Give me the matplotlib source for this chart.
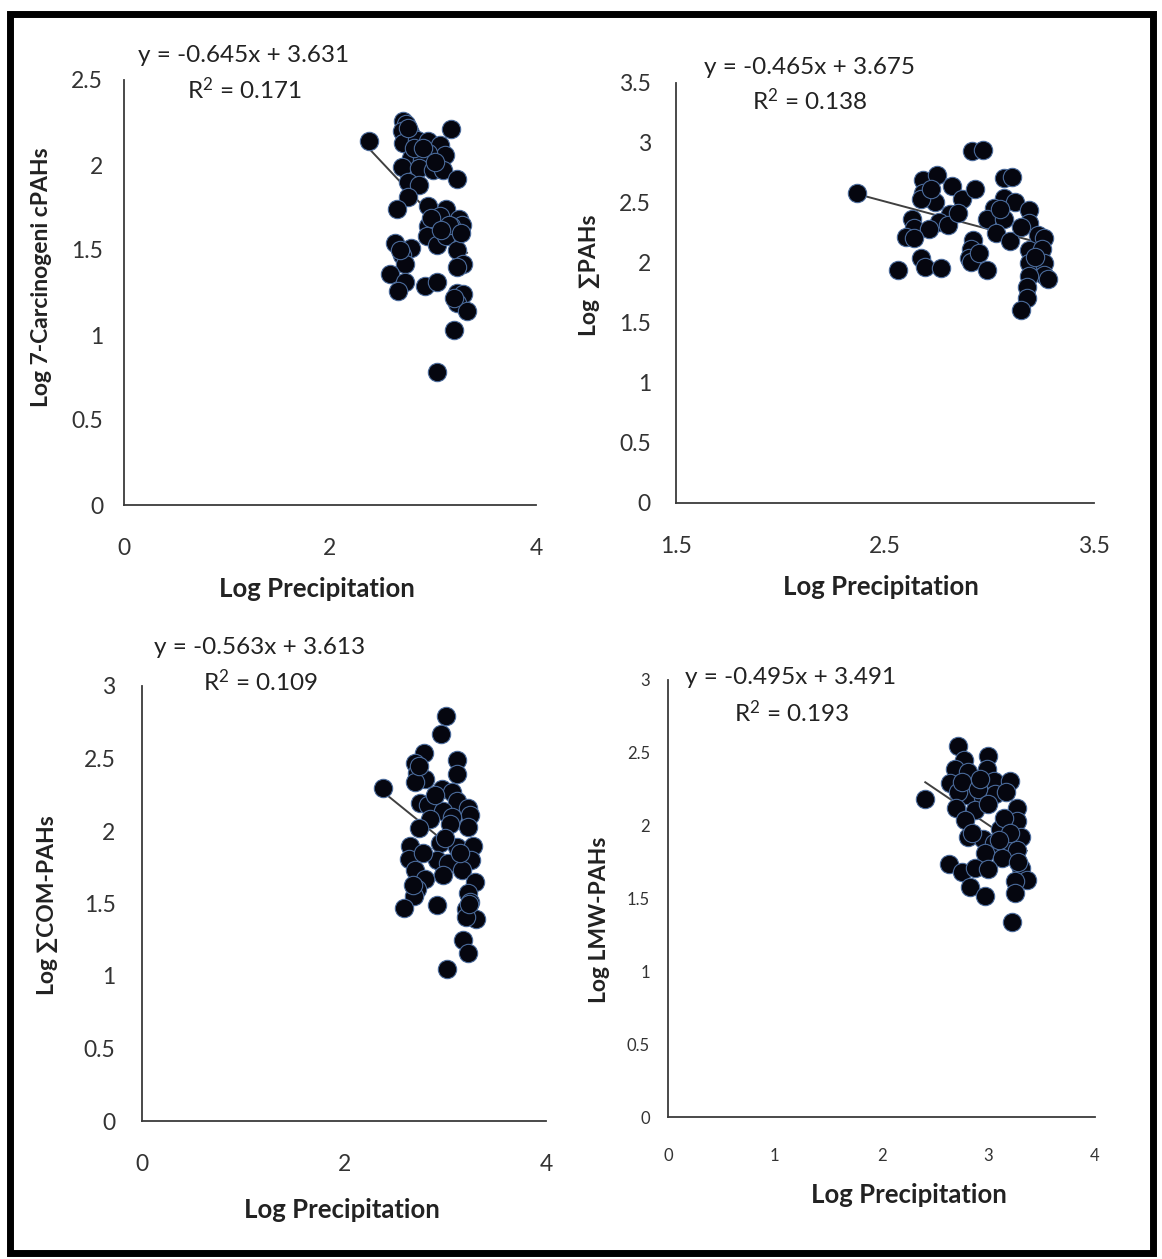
import matplotlib
matplotlib.use("Agg")
import matplotlib.pyplot as plt
from matplotlib.patches import Rectangle
import numpy as np

plt.rcParams['font.family'] = ['Lato', 'DejaVu Sans']
plt.rcParams['mathtext.fontset'] = 'custom'
plt.rcParams['mathtext.rm'] = 'Lato'
plt.rcParams['mathtext.it'] = 'Lato'

# ---------------- data ----------------
p1_x = [2.38, 2.71, 2.74, 2.70, 2.78, 2.71, 2.84, 3.17, 2.95, 3.07, 3.12, 2.95, 2.79, 2.89, 2.70,
        2.86, 3.00, 3.10, 3.23, 2.76, 2.86, 2.76, 2.65, 2.95, 3.13, 3.07, 3.25, 3.28, 2.95, 3.17,
        2.94, 3.04, 3.13, 3.23, 3.29, 3.23, 2.63, 2.79, 2.70, 2.73, 2.58, 2.73, 2.66, 2.92, 3.04,
        3.23, 3.29, 3.23, 3.33, 3.20, 3.04,
        2.76, 2.82, 2.90, 3.02, 3.16, 3.27, 2.68, 3.20, 2.98, 3.08]
p1_y = [2.14, 2.26, 2.24, 2.20, 2.19, 2.13, 2.15, 2.21, 2.14, 2.12, 2.06, 2.07, 2.04, 2.03, 1.99,
        1.98, 1.97, 1.97, 1.92, 1.90, 1.88, 1.81, 1.74, 1.76, 1.74, 1.70, 1.68, 1.65, 1.64, 1.64,
        1.58, 1.53, 1.58, 1.50, 1.42, 1.40, 1.54, 1.51, 1.47, 1.42, 1.36, 1.31, 1.26, 1.29, 1.31,
        1.25, 1.24, 1.19, 1.14, 1.03, 0.78,
        2.22, 2.10, 2.10, 2.02, 1.65, 1.60, 1.50, 1.22, 1.69, 1.62]

p2_x = [2.365, 2.915, 2.97, 2.68, 2.75, 2.82, 2.68, 2.74, 2.67, 2.87, 2.93, 3.07, 3.11, 3.07, 3.12,
        3.02, 3.19, 2.63, 2.81, 2.76, 2.99, 3.07, 3.19, 2.64, 2.71, 2.80, 2.60, 2.64, 3.03, 3.10,
        3.23, 3.26, 2.92, 2.91, 3.19, 3.25, 2.90, 2.91, 2.99, 3.19, 3.26, 3.26, 3.28, 2.67, 2.69,
        2.77, 2.56, 3.19, 3.18, 3.18, 3.15,
        2.72, 2.85, 3.05, 3.22, 3.15, 2.95]
p2_y = [2.58, 2.93, 2.94, 2.69, 2.73, 2.64, 2.58, 2.51, 2.53, 2.53, 2.62, 2.71, 2.72, 2.54, 2.51,
        2.46, 2.44, 2.37, 2.41, 2.34, 2.37, 2.37, 2.33, 2.29, 2.28, 2.32, 2.22, 2.21, 2.25, 2.18,
        2.23, 2.21, 2.19, 2.12, 2.11, 2.12, 2.04, 2.01, 1.94, 2.00, 2.00, 1.90, 1.87, 2.04, 1.97,
        1.96, 1.94, 1.89, 1.80, 1.71, 1.61,
        2.62, 2.42, 2.45, 2.05, 2.30, 2.08]

p3_x = [2.39, 3.01, 2.96, 2.79, 2.70, 2.72, 2.80, 2.70, 3.12, 3.12, 2.97, 3.07, 2.75, 2.83, 3.12,
        2.98, 3.23, 3.25, 3.07, 2.85, 3.23, 2.74, 2.65, 2.95, 3.12, 3.28, 2.64, 2.92, 3.03, 3.26,
        2.70, 3.17, 2.98, 2.80, 3.30, 2.72, 2.69, 3.23, 3.25, 2.59, 2.92, 3.21, 3.31, 3.21, 3.18,
        3.23, 3.02,
        2.74, 2.90, 3.05, 3.15, 2.78, 3.24, 2.68, 3.00]
p3_y = [2.30, 2.79, 2.67, 2.54, 2.47, 2.40, 2.36, 2.34, 2.49, 2.39, 2.29, 2.27, 2.19, 2.18, 2.21,
        2.14, 2.16, 2.11, 2.10, 2.08, 2.03, 2.02, 1.90, 1.92, 1.89, 1.90, 1.81, 1.80, 1.78, 1.80,
        1.73, 1.73, 1.70, 1.67, 1.65, 1.60, 1.55, 1.57, 1.51, 1.47, 1.49, 1.46, 1.39, 1.41, 1.25,
        1.16, 1.05,
        2.45, 2.25, 2.05, 1.85, 1.85, 1.50, 1.63, 1.95]

p4_x = [2.41, 2.72, 2.77, 2.69, 2.81, 3.00, 2.99, 3.05, 3.20, 2.64, 2.80, 2.72, 2.95, 3.06, 3.17,
        2.70, 2.88, 3.27, 2.78, 3.27, 3.11, 2.81, 2.95, 3.31, 3.05, 3.17, 3.27, 2.97, 3.13, 2.63,
        2.75, 2.88, 3.31, 3.36, 3.25, 2.83, 2.97, 3.25, 3.22,
        2.75, 2.90, 3.00, 3.15, 3.20, 2.85, 3.10, 3.28, 3.00, 2.92]
p4_y = [2.18, 2.55, 2.45, 2.39, 2.37, 2.48, 2.39, 2.31, 2.31, 2.29, 2.21, 2.23, 2.20, 2.22, 2.23,
        2.12, 2.11, 2.12, 2.04, 2.03, 1.98, 1.92, 1.91, 1.92, 1.88, 1.86, 1.83, 1.81, 1.78, 1.74,
        1.68, 1.71, 1.71, 1.63, 1.62, 1.58, 1.52, 1.54, 1.34,
        2.30, 2.25, 2.15, 2.05, 1.95, 1.95, 1.90, 1.75, 1.70, 2.32]

slopes = [-0.645, -0.465, -0.563, -0.495]
intercepts = [3.631, 3.675, 3.613, 3.491]
eq_texts = ["y = -0.645x + 3.631", "y = -0.465x + 3.675", "y = -0.563x + 3.613", "y = -0.495x + 3.491"]
r2_texts = ["R$^2$ = 0.171", "R$^2$ = 0.138", "R$^2$ = 0.109", "R$^2$ = 0.193"]
y_labels = ["Log 7-Carcinogeni cPAHs", "Log  \u2211PAHs", "Log \u2211COM-PAHs", "Log LMW-PAHs"]
x_label = "Log Precipitation"

x_ticks = [[0, 2, 4], [1.5, 2.5, 3.5], [0, 2, 4], [0, 1, 2, 3, 4]]
y_ticks = [[0, 0.5, 1, 1.5, 2, 2.5],
           [0, 0.5, 1, 1.5, 2, 2.5, 3, 3.5],
           [0, 0.5, 1, 1.5, 2, 2.5, 3],
           [0, 0.5, 1, 1.5, 2, 2.5, 3]]

# ---------------- layout ----------------
W, H = 1162, 1259
fig = plt.figure(figsize=(W / 100, H / 100), dpi=100)

def fx(px):
    return px / W

def fy(py):
    return 1 - py / H

# (left, right, top, bottom) pixel boxes
boxes = [(124, 536, 80, 505), (676, 1094, 83, 503), (142, 546, 686, 1121), (668, 1095, 680, 1117)]
eq_pos = [(244, 55, 90), (810, 68, 101), (260, 647, 682), (791, 678, 713)]
xlab_pos = [(317, 589), (881, 587), (342, 1210), (909, 1195)]
ylab_pos = [(42, 277), (590, 275), (48, 905), (600, 920)]
tick_fs = [16.5, 16.5, 16.5, 12]
xpad = [24, 24, 24, 22]
ypad = [15, 18, 19, 13]

datasets = [(p1_x, p1_y), (p2_x, p2_y), (p3_x, p3_y), (p4_x, p4_y)]

for i, (l, r, t, b) in enumerate(boxes):
    ax = fig.add_axes([fx(l), fy(b), fx(r) - fx(l), (b - t) / H])
    xs, ys = datasets[i]
    xs = np.array(xs)
    ys = np.array(ys)
    xx = np.array([xs.min(), xs.max()])
    ax.plot(xx, slopes[i] * xx + intercepts[i], color='#404040', lw=1.4, zorder=2)
    ax.scatter(xs, ys, s=175, facecolor='#05060f', edgecolor='#4a6a9a', linewidth=0.8, zorder=3)
    ax.set_xlim(x_ticks[i][0], x_ticks[i][-1])
    ax.set_ylim(y_ticks[i][0], y_ticks[i][-1])
    ax.set_xticks(x_ticks[i])
    ax.set_yticks(y_ticks[i])
    ax.set_xticklabels([f"{v:g}" for v in x_ticks[i]])
    ax.set_yticklabels([f"{v:g}" for v in y_ticks[i]])
    for s in ['top', 'right']:
        ax.spines[s].set_visible(False)
    for s in ['left', 'bottom']:
        ax.spines[s].set_color('#3a3a3a')
        ax.spines[s].set_linewidth(1.3)
    ax.tick_params(axis='x', length=0, pad=xpad[i], labelsize=tick_fs[i], colors='#333333')
    ax.tick_params(axis='y', length=0, pad=ypad[i], labelsize=tick_fs[i], colors='#333333')
    ax.patch.set_alpha(0)

    ex, ey1, ey2 = eq_pos[i]
    fig.text(fx(ex), fy(ey1), eq_texts[i], ha='center', va='center', fontsize=17.5, color='#222222')
    fig.text(fx(ex), fy(ey2), r2_texts[i], ha='center', va='center', fontsize=17.5, color='#222222')
    lx, ly = xlab_pos[i]
    fig.text(fx(lx), fy(ly), x_label, ha='center', va='center', fontsize=18.5,
             fontweight='bold', color='#222222')
    yx, yy = ylab_pos[i]
    fig.text(fx(yx), fy(yy), y_labels[i], ha='center', va='center', rotation=90,
             fontsize=16.5, fontweight='bold', color='#222222')

# thick outer frame
fig.patches.append(Rectangle((fx(10), fy(1253)), fx(1153) - fx(10), (1253 - 14) / H,
                             transform=fig.transFigure, fill=False, edgecolor='black',
                             linewidth=5, zorder=10))

fig.savefig("out.png", dpi=100)
